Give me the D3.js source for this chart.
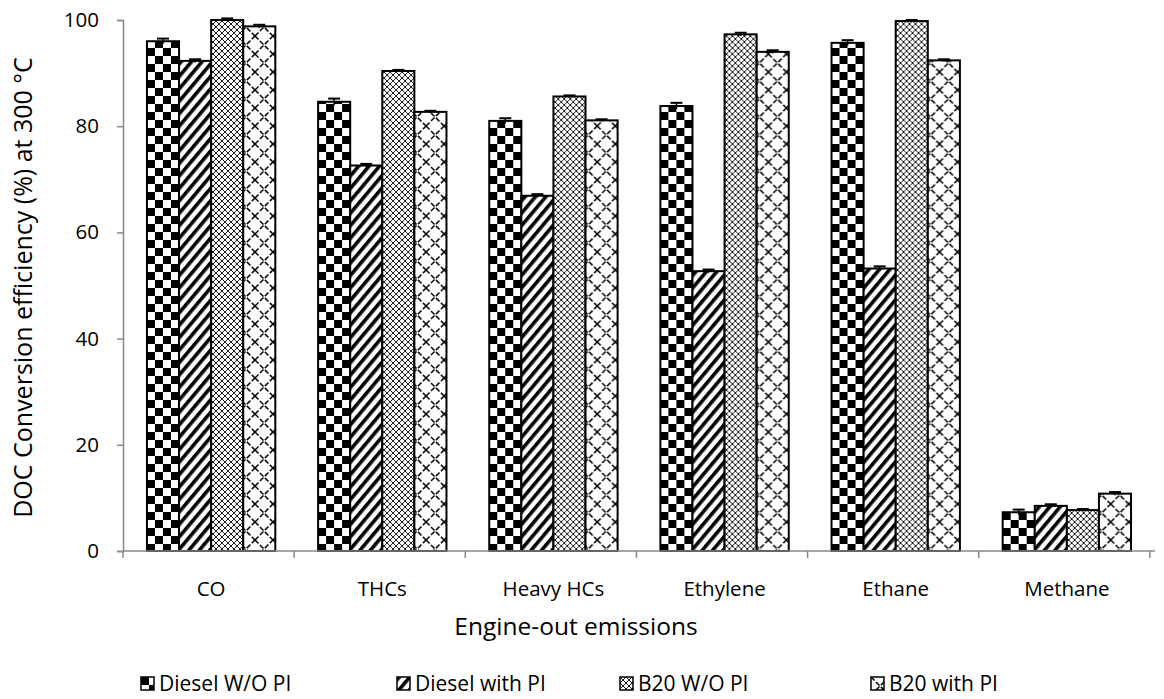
<!DOCTYPE html>
<html>
<head>
<meta charset="utf-8">
<script src="https://cdn.jsdelivr.net/npm/d3@7"></script>
<style>
body { margin: 0; background: #fff; }
svg text { font-family: "Open Sans", "Noto Sans", sans-serif; fill: #000; }
</style>
</head>
<body>
<div id="chart"></div>
<script>
let width = 1164, height = 699;

const categories = ["CO", "THCs", "Heavy HCs", "Ethylene", "Ethane", "Methane"];
const seriesNames = ["Diesel W/O PI", "Diesel with PI", "B20 W/O PI", "B20 with PI"];
const dieselWO = [96.0, 84.6, 81.0, 83.8, 95.7, 7.3];
const dieselWith = [92.3, 72.6, 66.9, 52.7, 53.2, 8.5];
const b20WO = [100.0, 90.4, 85.6, 97.3, 99.8, 7.7];
const b20With = [98.8, 82.7, 81.1, 94.0, 92.4, 10.8];
const errDieselWO = [0.5, 0.6, 0.5, 0.6, 0.5, 0.5];
const errDieselWith = [0.3, 0.3, 0.3, 0.3, 0.4, 0.3];
const errB20WO = [0.3, 0.2, 0.2, 0.3, 0.2, 0.2];
const errB20With = [0.3, 0.2, 0.2, 0.3, 0.2, 0.3];
const yTicks = [0, 20, 40, 60, 80, 100];

const values = [dieselWO, dieselWith, b20WO, b20With];
const errors = [errDieselWO, errDieselWith, errB20WO, errB20With];
const patternIds = ["pCheck", "pStripe", "pFine", "pLattice"];

let margin = {top: 20, right: 9, bottom: 148, left: 123};

const svg = d3.select("#chart").append("svg")
  .attr("width", width).attr("height", height);

// patterns
const defs = svg.append("defs");
let p = defs.append("pattern").attr("id", "pCheck").attr("patternUnits", "userSpaceOnUse")
  .attr("width", 16).attr("height", 16);
p.append("rect").attr("width", 16).attr("height", 16).attr("fill", "#fff");
p.append("rect").attr("width", 8).attr("height", 8).attr("fill", "#000");
p.append("rect").attr("x", 8).attr("y", 8).attr("width", 8).attr("height", 8).attr("fill", "#000");

p = defs.append("pattern").attr("id", "pStripe").attr("patternUnits", "userSpaceOnUse")
  .attr("width", 8).attr("height", 8).attr("patternTransform", "rotate(40)");
p.append("rect").attr("width", 8).attr("height", 8).attr("fill", "#fff");
p.append("rect").attr("width", 3.6).attr("height", 8).attr("fill", "#000");

p = defs.append("pattern").attr("id", "pFine").attr("patternUnits", "userSpaceOnUse")
  .attr("width", 6).attr("height", 6);
p.append("rect").attr("width", 6).attr("height", 6).attr("fill", "#fff");
p.append("path").attr("d", "M0,0L6,6M6,0L0,6").attr("stroke", "#000").attr("stroke-width", 0.9);

p = defs.append("pattern").attr("id", "pLattice").attr("patternUnits", "userSpaceOnUse")
  .attr("width", 18).attr("height", 18);
p.append("rect").attr("width", 18).attr("height", 18).attr("fill", "#fff");
p.append("path").attr("d", "M0,18L18,0M0,0L18,18").attr("stroke", "#000").attr("stroke-width", 1.5)
  .attr("stroke-dasharray", "5,2");

const x = d3.scaleBand().domain(categories)
  .range([margin.left, width - margin.right]).paddingInner(0.25).paddingOuter(0.14);
const xs = d3.scaleBand().domain(d3.range(4)).range([0, x.bandwidth()]);
const y = d3.scaleLinear().domain([0, 100]).range([height - margin.bottom, margin.top]);

// bars
const groups = svg.append("g").selectAll("g")
  .data(categories)
  .join("g")
  .attr("transform", d => `translate(${x(d)},0)`);

groups.selectAll("rect")
  .data((c, ci) => values.map((s, si) => ({si, v: s[ci], e: errors[si][ci]})))
  .join("rect")
  .attr("x", d => xs(d.si))
  .attr("y", d => y(d.v))
  .attr("width", xs.bandwidth())
  .attr("height", d => y(0) - y(d.v))
  .attr("fill", d => `url(#${patternIds[d.si]})`)
  .attr("stroke", "#000").attr("stroke-width", 2);

// error bars
const eb = groups.selectAll("g.err")
  .data((c, ci) => values.map((s, si) => ({si, v: s[ci], e: errors[si][ci]})))
  .join("g").attr("class", "err");
eb.append("line")
  .attr("x1", d => xs(d.si) + xs.bandwidth() / 2).attr("x2", d => xs(d.si) + xs.bandwidth() / 2)
  .attr("y1", d => y(d.v + d.e)).attr("y2", d => y(d.v - d.e))
  .attr("stroke", "#000").attr("stroke-width", 1.5);
eb.append("line")
  .attr("x1", d => xs(d.si) + xs.bandwidth() / 2 - 6).attr("x2", d => xs(d.si) + xs.bandwidth() / 2 + 6)
  .attr("y1", d => y(d.v + d.e)).attr("y2", d => y(d.v + d.e))
  .attr("stroke", "#000").attr("stroke-width", 2);

// y axis
const yAxis = svg.append("g").attr("transform", `translate(${margin.left},0)`)
  .call(d3.axisLeft(y).tickValues(yTicks).tickSize(6).tickPadding(18));
yAxis.select(".domain").attr("stroke", "#888").attr("stroke-width", 1.5);
yAxis.selectAll(".tick line").attr("stroke", "#888").attr("stroke-width", 1.5);
yAxis.selectAll("text").attr("font-size", 20.5).attr("font-family", "Open Sans");

// x axis
const xAxis = svg.append("g").attr("transform", `translate(0,${y(0)})`);
xAxis.append("line").attr("x1", margin.left).attr("x2", width - margin.right)
  .attr("stroke", "#888").attr("stroke-width", 1.5);
const step = x.step();
xAxis.selectAll("line.tk")
  .data(d3.range(categories.length + 1))
  .join("line").attr("class", "tk")
  .attr("x1", i => margin.left + i * step).attr("x2", i => margin.left + i * step)
  .attr("y1", 0).attr("y2", 7)
  .attr("stroke", "#888").attr("stroke-width", 1.5);
xAxis.selectAll("text")
  .data(categories)
  .join("text")
  .attr("x", d => x(d) + x.bandwidth() / 2)
  .attr("y", 45)
  .attr("text-anchor", "middle")
  .attr("font-size", 20.5)
  .text(d => d);

// axis titles
svg.append("text")
  .attr("x", 576).attr("y", 635)
  .attr("text-anchor", "middle").attr("font-size", 24.5)
  .text("Engine-out emissions");
svg.append("text")
  .attr("transform", `translate(32,${(margin.top + y(0)) / 2 + 2}) rotate(-90)`)
  .attr("text-anchor", "middle").attr("font-size", 25)
  .text("DOC Conversion efficiency (%) at 300 °C");

// legend
const legendX = [141, 397, 620, 871];
const legend = svg.append("g").selectAll("g")
  .data(seriesNames)
  .join("g")
  .attr("transform", (d, i) => `translate(${legendX[i]},677)`);
legend.append("rect")
  .attr("width", 13).attr("height", 13)
  .attr("fill", (d, i) => `url(#${patternIds[i]})`)
  .attr("stroke", "#000").attr("stroke-width", 1.5);
legend.append("text")
  .attr("x", 18).attr("y", 14).attr("font-size", 21)
  .text(d => d);
</script>
</body>
</html>
